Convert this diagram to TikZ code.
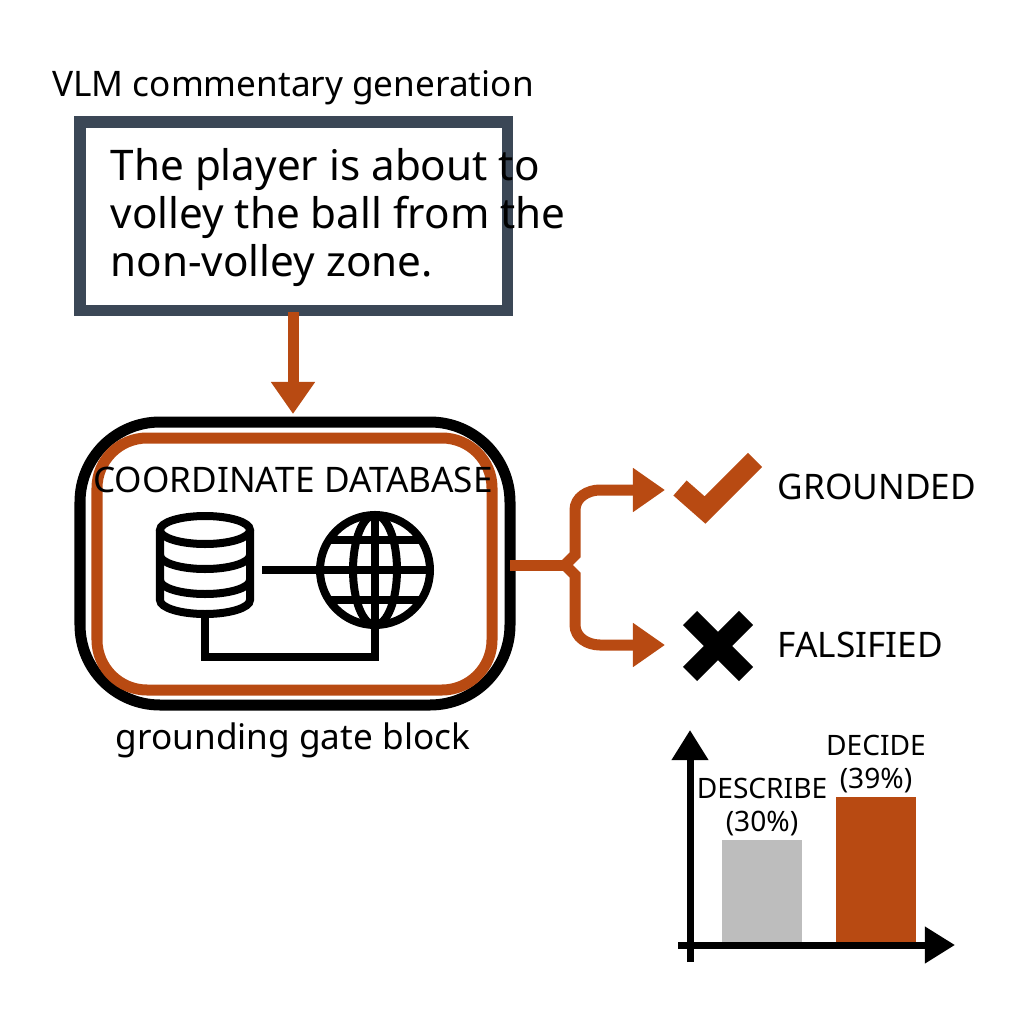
\documentclass[tikz,border=0pt]{standalone}
\usepackage{fontspec}
\setmainfont{Noto Sans}
\usetikzlibrary{positioning,arrows.meta}
\definecolor{rust}{HTML}{B84A12}
\definecolor{slate}{HTML}{3B4756}
\definecolor{barGray}{HTML}{BDBDBD}
\begin{document}
\begin{tikzpicture}[x=0.01cm, y=-0.01cm,
  flow/.style = {draw=rust, line width=1.1mm, -{Triangle[length=3.2mm,width=4.2mm]}},
  icon/.style = {draw=black, line width=0.8mm},
  lbl/.style = {font=\fontsize{10}{12}\selectfont, inner sep=0},
  small/.style = {font=\fontsize{8}{9.5}\selectfont, align=center, inner sep=0}]

\useasboundingbox (0,0) rectangle (1024,1024);

% comment box
\node[lbl] (title) at (293,88) {VLM commentary generation};
\draw[draw=slate, line width=1.1mm] (80,122) rectangle (507,310);
\node[anchor=north west, align=left, inner sep=0,
      font=\fontsize{12}{13.6}\selectfont] (claim) at (110,148)
  {The player is about to\\volley the ball from the\\non-volley zone.};
\coordinate (boxS) at (293,312);
\coordinate (gateN) at (293,414);
\draw[flow] (boxS) -- (gateN);

% gate block
\draw[line width=1.1mm, rounded corners=8mm] (80,422) rectangle (510,705);
\draw[draw=rust, line width=1.1mm, rounded corners=5mm] (97,438) rectangle (492,690);
\node[lbl] (db) at (293,480) {COORDINATE DATABASE};
\node[lbl] (gate) at (293,740) {grounding gate block};

% database icon
\draw[icon, fill=white] (160,530) -- (160,600) arc[start angle=180, end angle=360, x radius=45, y radius=-14]
  -- (250,530);
\draw[icon] (205,530) ellipse[x radius=45, y radius=14];
\draw[icon] (160,555) arc[start angle=180, end angle=360, x radius=45, y radius=-14];
\draw[icon] (160,580) arc[start angle=180, end angle=360, x radius=45, y radius=-14];

% globe icon
\coordinate (globe) at (375,570);
\draw[icon] (globe) circle[radius=55];
\draw[icon] (globe) ellipse[x radius=22, y radius=55];
\draw[icon] (320,570) -- (430,570);
\draw[icon] (375,515) -- (375,625);
\draw[icon] (330,540) -- (420,540);
\draw[icon] (330,600) -- (420,600);

\coordinate (dbE) at (262,570);
\coordinate (globeW) at (318,570);
\draw[icon] (dbE) -- (globeW);
\draw[icon] (205,614) -- (205,657) -- (375,657) -- (375,625);

% outcomes
\coordinate (gateE) at (510,565);
\coordinate (fork) at (565,565);
\coordinate (upT) at (665,490);
\coordinate (dnT) at (665,645);
\draw[draw=rust, line width=1.1mm] (gateE) -- (fork);
\draw[flow] (fork) to[out=0, in=180, looseness=0] (575,555) -- (575,510)
  to[out=90, in=180] (600,490) -- (upT);
\draw[flow] (fork) to[out=0, in=180, looseness=0] (575,575) -- (575,625)
  to[out=-90, in=180] (600,645) -- (dnT);

\draw[draw=rust, line width=2mm] (680,488) -- (705,510) -- (755,460);
\node[lbl, anchor=west] (ok) at (777,487) {GROUNDED};
\draw[line width=2mm] (690,618) -- (746,674) (746,618) -- (690,674);
\node[lbl, anchor=west] (bad) at (777,645) {FALSIFIED};

% bar chart
\coordinate (origin) at (690,945);
\coordinate (yTop) at (690,730);
\coordinate (xEnd) at (955,945);
\fill[barGray] (722,840) rectangle (802,945);
\fill[rust] (836,797) rectangle (916,945);
\draw[line width=0.7mm, -{Triangle[length=3mm,width=3.5mm]}] (690,962) -- (yTop);
\draw[line width=0.7mm, -{Triangle[length=3mm,width=3.5mm]}] (678,945) -- (xEnd);
\node[small] (describe) at (762,807) {DESCRIBE\\(30\%)};
\node[small] (decide) at (876,764) {DECIDE\\(39\%)};
\end{tikzpicture}
\end{document}
